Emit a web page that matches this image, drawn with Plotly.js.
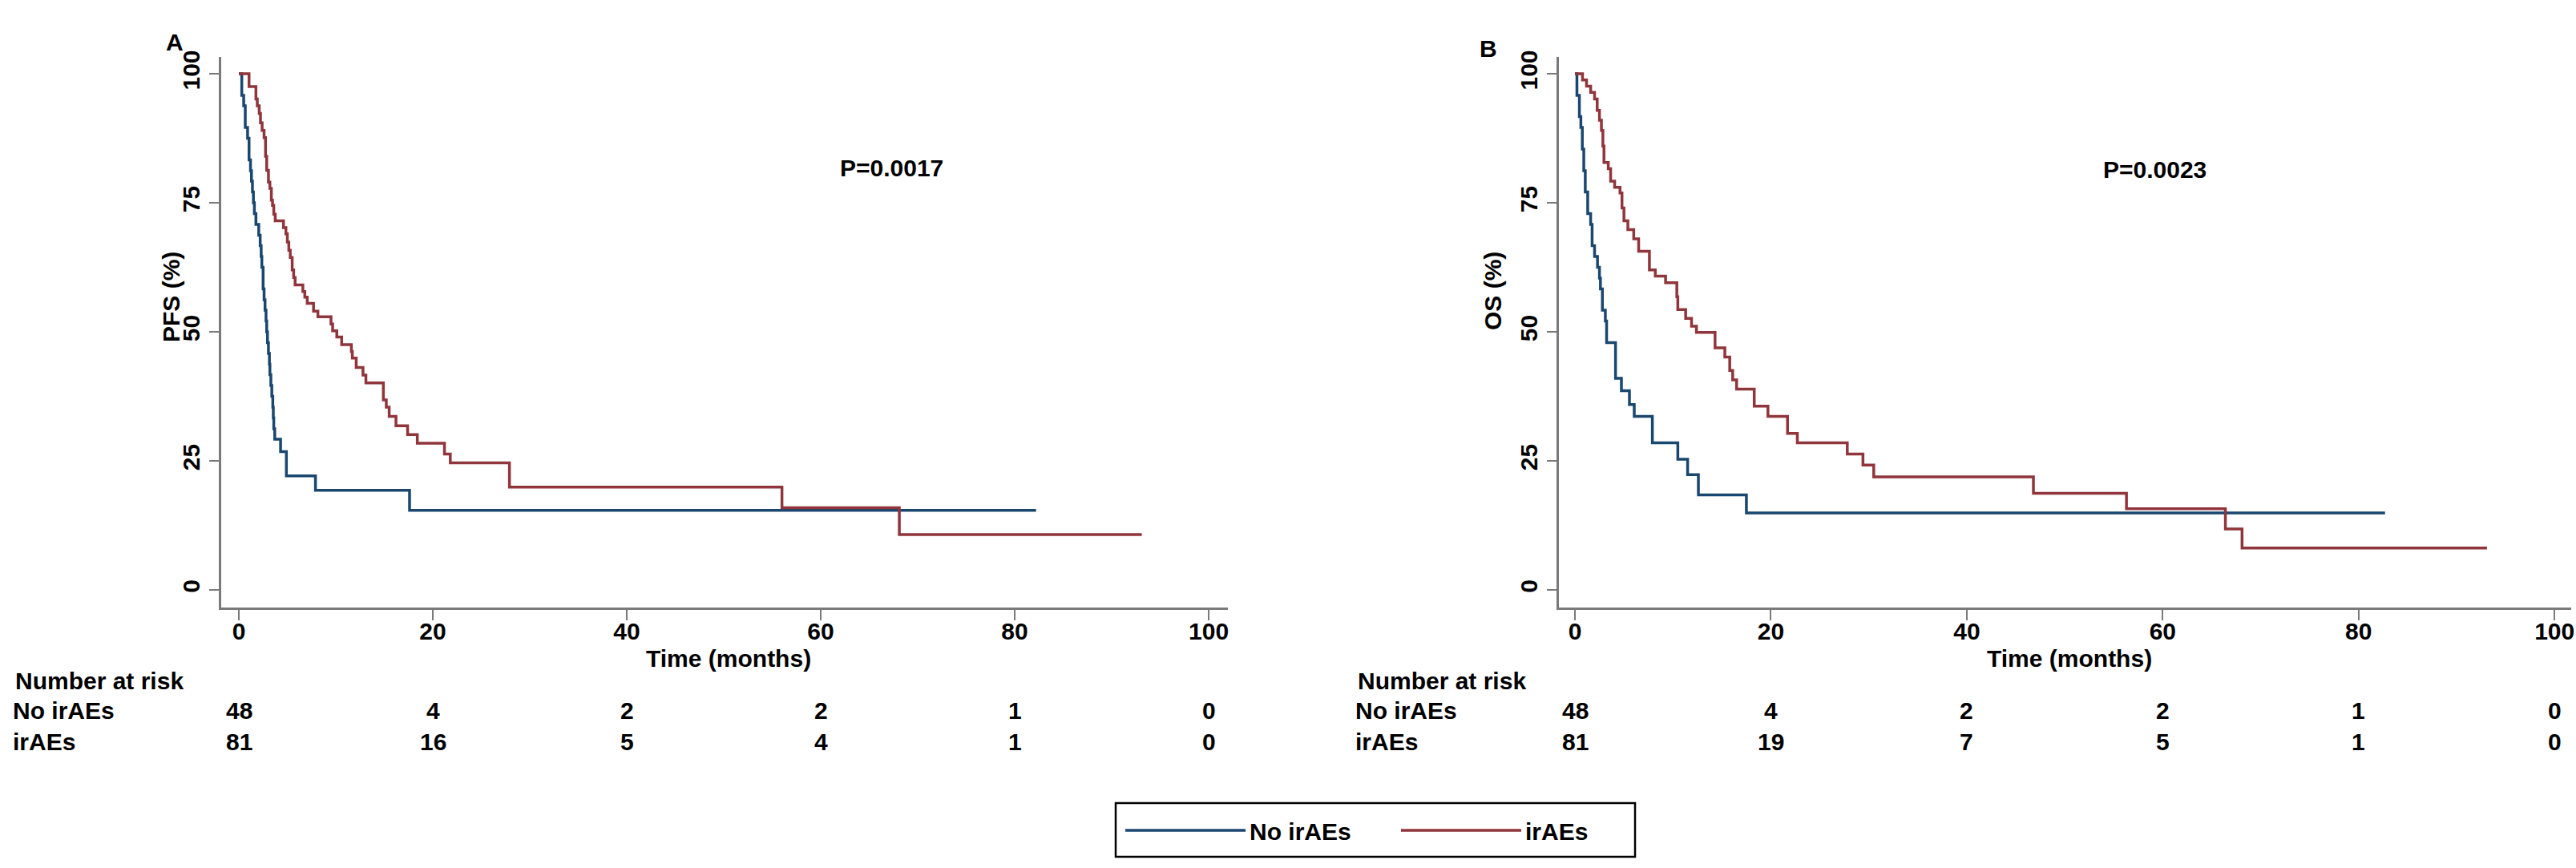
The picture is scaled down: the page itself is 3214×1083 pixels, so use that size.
<!DOCTYPE html>
<html>
<head>
<meta charset="utf-8">
<script src="https://cdn.plot.ly/plotly-3.0.1.min.js"></script>
<style>
  html, body { margin: 0; padding: 0; background: #fff; }
  #chart { width: 3214px; height: 1083px; }
</style>
</head>
<body>
<div id="chart"></div>
<script>
// Kaplan-Meier estimates (months, %)
const pfsNoTime = [0, 0.3, 0.5, 0.66, 0.9, 1.05, 1.2, 1.3, 1.4, 1.5, 1.6, 1.76, 2.05, 2.2, 2.3, 2.37, 2.5, 2.6, 2.7, 2.8, 2.87, 2.95, 3.05, 3.15, 3.2, 3.3, 3.4, 3.5, 3.55, 3.6, 3.7, 4.3, 4.9, 7.9, 17.6, 82.2];
const pfsNoSurv = [100, 95.8, 93.8, 89.6, 87.5, 83.3, 81.2, 79.2, 77.1, 75.0, 72.9, 70.8, 68.7, 66.7, 64.6, 62.5, 58.3, 56.2, 54.2, 52.1, 50.0, 47.9, 45.8, 43.7, 41.7, 39.6, 37.5, 35.4, 33.3, 31.2, 29.2, 26.8, 22.1, 19.3, 15.4, 15.4];

const pfsIrTime = [0, 1.05, 1.76, 1.9, 2.1, 2.23, 2.4, 2.6, 2.75, 2.87, 3.05, 3.2, 3.35, 3.47, 3.6, 3.75, 4.6, 4.85, 5.0, 5.15, 5.3, 5.5, 5.65, 5.8, 6.6, 6.8, 7.05, 7.7, 8.15, 9.5, 9.67, 10.1, 10.6, 11.6, 11.7, 12.1, 12.8, 13.1, 14.9, 15.2, 15.5, 16.2, 17.4, 18.4, 21.2, 21.8, 27.9, 56.0, 68.1, 93.1];
const pfsIrSurv = [100, 97.5, 95.1, 93.8, 92.3, 90.5, 89.0, 87.6, 84.0, 81.3, 79.0, 77.8, 75.5, 74.5, 72.8, 71.5, 70.2, 69.0, 67.4, 65.8, 64.4, 62.0, 60.5, 59.1, 57.8, 56.7, 55.5, 54.0, 52.9, 51.5, 50.2, 49.0, 47.5, 46.2, 44.9, 43.1, 41.6, 40.1, 36.8, 35.4, 33.6, 31.8, 30.1, 28.4, 26.3, 24.6, 19.9, 15.9, 10.7, 10.7];

const osNoTime = [0, 0.2, 0.45, 0.6, 0.75, 0.9, 1.05, 1.3, 1.6, 1.75, 2.0, 2.3, 2.5, 2.6, 2.8, 3.1, 3.23, 4.14, 4.74, 5.56, 6.05, 7.9, 10.5, 11.5, 12.6, 17.5, 82.7];
const osNoSurv = [100, 95.8, 91.7, 89.6, 85.4, 81.2, 77.1, 72.9, 70.8, 66.7, 64.6, 62.5, 60.4, 58.3, 54.2, 52.1, 47.9, 41.0, 38.6, 35.9, 33.6, 28.5, 25.3, 22.3, 18.4, 14.9, 14.9];

const osIrTime = [0, 0.77, 1.18, 1.6, 2.0, 2.27, 2.5, 2.7, 2.85, 2.96, 3.4, 3.64, 4.05, 4.6, 4.8, 5.0, 5.4, 6.0, 6.5, 7.6, 8.2, 9.25, 10.4, 10.5, 11.3, 11.9, 12.4, 14.3, 15.3, 15.8, 16.1, 16.5, 18.3, 19.7, 21.7, 22.7, 27.8, 29.4, 30.5, 46.8, 56.3, 66.4, 68.1, 93.1];
const osIrSurv = [100, 98.8, 97.6, 96.4, 95.1, 92.9, 91.0, 89.0, 86.0, 82.8, 81.6, 79.2, 78.0, 76.9, 74.0, 71.5, 69.8, 68.0, 65.6, 62.0, 60.8, 59.5, 56.8, 54.3, 52.6, 51.1, 49.9, 46.9, 45.1, 42.5, 40.7, 38.9, 35.6, 33.6, 30.3, 28.5, 26.3, 24.2, 21.9, 18.7, 15.7, 11.8, 8.1, 8.1];

// number at risk table
const riskTimes = [0, 20, 40, 60, 80, 100];
const pfsRiskNo = [48, 4, 2, 2, 1, 0];
const pfsRiskIr = [81, 16, 5, 4, 1, 0];
const osRiskNo = [48, 4, 2, 2, 1, 0];
const osRiskIr = [81, 19, 7, 5, 1, 0];

const groupNames = ["No irAEs", "irAEs"];
const pValues = ["P=0.0017", "P=0.0023"];

const W = 3214, H = 1083;
const FONT = "Liberation Sans, Arial, sans-serif";
const BLUE = "#1a476f";
const RED = "#90353b";
const AXIS = "#7a7a7a";

function px(x) { return x / W; }
function py(y) { return 1 - y / H; }

const traces = [
  { x: pfsNoTime, y: pfsNoSurv, xaxis: "x", yaxis: "y", name: groupNames[0], legendgroup: "no",
    mode: "lines", line: { shape: "hv", color: BLUE, width: 3.5 } },
  { x: pfsIrTime, y: pfsIrSurv, xaxis: "x", yaxis: "y", name: groupNames[1], legendgroup: "ir",
    mode: "lines", line: { shape: "hv", color: RED, width: 3.5 } },
  { x: osNoTime, y: osNoSurv, xaxis: "x2", yaxis: "y2", name: groupNames[0], legendgroup: "no", showlegend: false,
    mode: "lines", line: { shape: "hv", color: BLUE, width: 3.5 } },
  { x: osIrTime, y: osIrSurv, xaxis: "x2", yaxis: "y2", name: groupNames[1], legendgroup: "ir", showlegend: false,
    mode: "lines", line: { shape: "hv", color: RED, width: 3.5 } }
];

function xAxis(domain, range, anchor) {
  return {
    domain: domain, range: range, anchor: anchor,
    showline: true, linecolor: AXIS, linewidth: 3,
    ticks: "outside", ticklen: 13, tickwidth: 2, tickcolor: AXIS,
    tickvals: riskTimes, showgrid: false, zeroline: false,
    ticklabelstandoff: -12,
    tickfont: { family: FONT, size: 30, color: "#000", weight: "bold" }
  };
}
function yAxis(domain, anchor) {
  return {
    domain: domain, range: [-3.42, 103.26], anchor: anchor,
    showline: true, linecolor: AXIS, linewidth: 3,
    ticks: "outside", ticklen: 12, tickwidth: 2, tickcolor: AXIS,
    tickvals: [0, 25, 50, 75, 100], tickangle: -90,
    showgrid: false, zeroline: false,
    tickfont: { family: FONT, size: 30, color: "#000", weight: "bold" }
  };
}

const yDom = [py(758), py(71)];

const txt = (s) => ({ family: FONT, size: s || 30, color: "#000", weight: "bold" });
const annotations = [];

// panel letters
annotations.push({ text: "A", xref: "paper", yref: "paper", x: px(205), y: py(34), showarrow: false, font: txt(30) });
annotations.push({ text: "B", xref: "paper", yref: "paper", x: px(1857), y: py(42), showarrow: false, font: txt(30) });

// y titles
annotations.push({ text: "PFS (%)", xref: "paper", yref: "paper", x: px(195), y: py(312), textangle: -90, showarrow: false, font: txt(30) });
annotations.push({ text: "OS (%)", xref: "paper", yref: "paper", x: px(1862), y: py(312), textangle: -90, showarrow: false, font: txt(30) });

// x titles
annotations.push({ text: "Time (months)", xref: "x", yref: "paper", x: 50.5, y: py(840), showarrow: false, font: txt(30) });
annotations.push({ text: "Time (months)", xref: "x2", yref: "paper", x: 50.5, y: py(840), showarrow: false, font: txt(30) });

// p-values
annotations.push({ text: pValues[0], xref: "x", yref: "y", x: 67.3, y: 81.7, showarrow: false, font: txt(30) });
annotations.push({ text: pValues[1], xref: "x2", yref: "y2", x: 59.2, y: 81.4, showarrow: false, font: txt(30) });

// risk tables
function riskTable(xref, labelX, rowNo, rowIr) {
  annotations.push({ text: "Number at risk", xref: "paper", yref: "paper", x: px(labelX + 3), y: py(868), xanchor: "left", showarrow: false, font: txt(30) });
  annotations.push({ text: groupNames[0], xref: "paper", yref: "paper", x: px(labelX), y: py(905), xanchor: "left", showarrow: false, font: txt(30) });
  annotations.push({ text: groupNames[1], xref: "paper", yref: "paper", x: px(labelX), y: py(944), xanchor: "left", showarrow: false, font: txt(30) });
  riskTimes.forEach((t, i) => {
    annotations.push({ text: String(rowNo[i]), xref: xref, yref: "paper", x: t, y: py(905), showarrow: false, font: txt(30) });
    annotations.push({ text: String(rowIr[i]), xref: xref, yref: "paper", x: t, y: py(944), showarrow: false, font: txt(30) });
  });
}
riskTable("x", 14, pfsRiskNo, pfsRiskIr);
riskTable("x2", 1689, osRiskNo, osRiskIr);

const layout = {
  width: W, height: H,
  margin: { l: 0, r: 0, t: 0, b: 0 },
  paper_bgcolor: "#fff", plot_bgcolor: "#fff",
  font: { family: FONT, color: "#000" },
  xaxis: xAxis([px(276), px(1532)], [-1.82, 101.98], "y"),
  yaxis: yAxis(yDom, "x"),
  xaxis2: xAxis([px(1945), px(3208)], [-1.64, 101.7], "y2"),
  yaxis2: yAxis(yDom, "x2"),
  showlegend: true,
  legend: {
    orientation: "h", x: px(1399), y: py(1036), xanchor: "left", yanchor: "middle",
    borderwidth: 0, bgcolor: "rgba(0,0,0,0)",
    itemwidth: 150, entrywidth: 179, entrywidthmode: "pixels", tracegroupgap: 0,
    font: { family: FONT, size: 30, color: "#000", weight: "bold" }
  },
  shapes: [
    { type: "rect", xref: "paper", yref: "paper", x0: px(1392), x1: px(2040), y0: py(1069), y1: py(1002),
      line: { color: "#000", width: 2.5 }, fillcolor: "rgba(0,0,0,0)", layer: "below" }
  ],
  annotations: annotations
};

Plotly.newPlot("chart", traces, layout, { staticPlot: true });
</script>
</body>
</html>
